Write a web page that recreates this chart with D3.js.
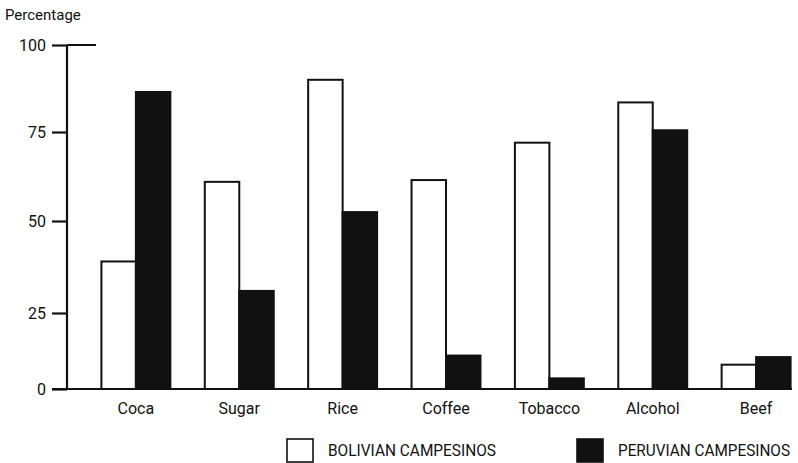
<!DOCTYPE html>
<html><head><meta charset="utf-8">
<script src="https://cdn.jsdelivr.net/npm/d3@7"></script>
<style>
html,body{margin:0;padding:0;background:#fff;}
text{font-family:Roboto,"Liberation Sans",sans-serif;fill:#111;}
</style></head>
<body>
<svg id="chart" width="798" height="463"></svg>
<script>
const categories = ["Coca","Sugar","Rice","Coffee","Tobacco","Alcohol","Beef"];
const bolivian = [39, 61, 90, 61.5, 72, 83.5, 8];
const peruvian = [86.5, 31, 52.5, 11, 3.5, 75.5, 10.5];
const seriesNames = ["BOLIVIAN CAMPESINOS","PERUVIAN CAMPESINOS"];
const yTicks = [0,25,50,75,100];

const svg = d3.select("#chart");
const ink = "#111";

// hand-drawn axis: tick spacing in the original is slightly uneven
const y = d3.scaleLinear().domain(yTicks).range([389,313,221,132,45]);
const x = d3.scaleBand().domain(categories).range([67,825]).padding(0.333);
const sub = d3.scaleBand().domain([0,1]).range([0,x.bandwidth()]);

const data = categories.map((c,i)=>({cat:c, vals:[bolivian[i], peruvian[i]]}));

// bars
const g = svg.append("g");
data.forEach(d=>{
  d.vals.forEach((v,k)=>{
    g.append("rect")
      .attr("x", x(d.cat)+sub(k))
      .attr("y", y(v))
      .attr("width", sub.bandwidth())
      .attr("height", y(0)-y(v))
      .attr("fill", k===0 ? "#fff" : ink)
      .attr("stroke", ink)
      .attr("stroke-width", 2);
  });
});

// y axis
const yAxis = d3.axisLeft(y).tickValues(yTicks).tickSize(15).tickPadding(6).tickFormat(d3.format("d"));
const ax = svg.append("g").attr("transform","translate(67,0)").call(yAxis);
ax.select(".domain").remove();
ax.selectAll(".tick line").attr("stroke",ink).attr("stroke-width",2.2);
ax.selectAll(".tick text").attr("font-size",16).attr("fill",ink)
  .attr("font-family",'Roboto,"Liberation Sans",sans-serif');

svg.append("line").attr("x1",67).attr("x2",67).attr("y1",y(100)).attr("y2",y(0))
  .attr("stroke",ink).attr("stroke-width",2.2);
svg.append("line").attr("x1",67).attr("x2",96).attr("y1",y(100)).attr("y2",y(100))
  .attr("stroke",ink).attr("stroke-width",2);
svg.append("line").attr("x1",52).attr("x2",792).attr("y1",y(0)).attr("y2",y(0))
  .attr("stroke",ink).attr("stroke-width",2.2);

// category labels
svg.append("g").selectAll("text").data(categories).join("text")
  .attr("x", d=>x(d)+x.bandwidth()/2)
  .attr("y", 414)
  .attr("text-anchor","middle")
  .attr("font-size",16)
  .text(d=>d);

// y title
svg.append("text").attr("x",5).attr("y",20).attr("font-size",15).text("Percentage");

// legend
const legX = [287, 577];
const legW = [168, 172];
seriesNames.forEach((n,k)=>{
  svg.append("rect").attr("x",legX[k]).attr("y",439).attr("width",26).attr("height",23)
    .attr("fill", k===0 ? "#fff" : ink).attr("stroke",ink).attr("stroke-width",1.6);
  svg.append("text").attr("x",legX[k]+41).attr("y",456).attr("font-size",16)
    .attr("textLength",legW[k]).attr("lengthAdjust","spacingAndGlyphs").text(n);
});
</script>
</body></html>
